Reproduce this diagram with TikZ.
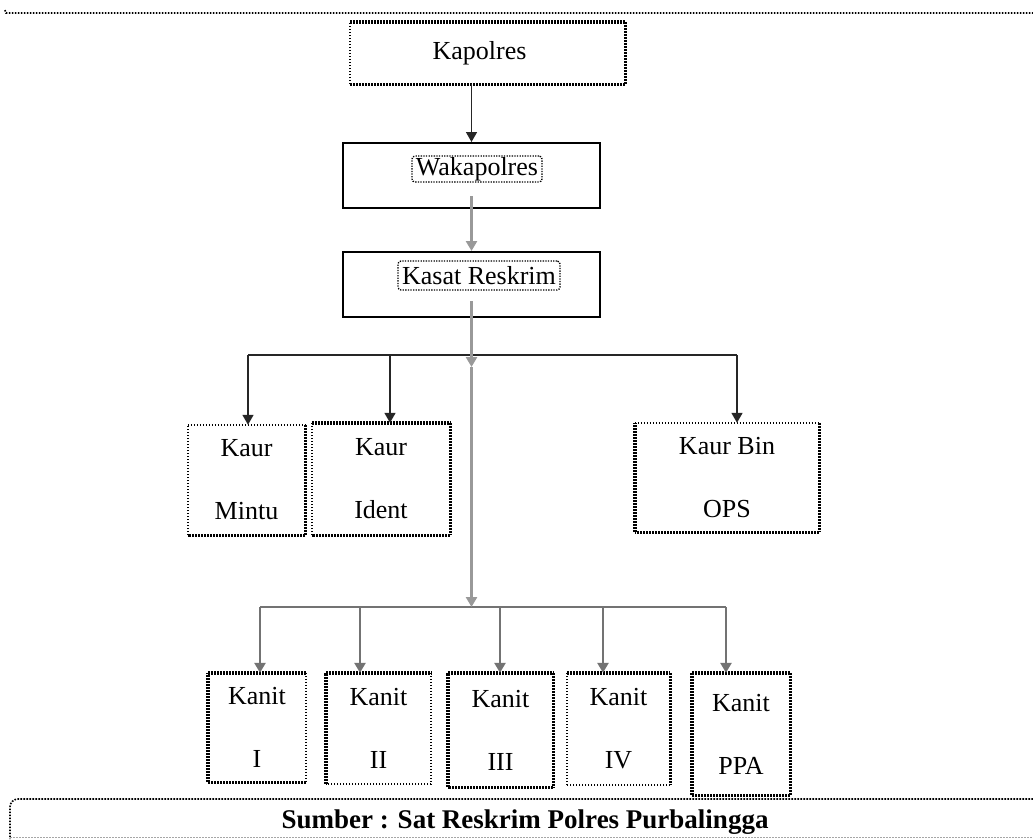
\documentclass[tikz,border=0pt]{standalone}
\usepackage{fontspec}
\setmainfont{Liberation Serif}
\usetikzlibrary{arrows.meta}
\newcommand\boxsides[5]{%
  \draw[#2] (#1.north west) -- (#1.north east);
  \draw[#3] (#1.north east) -- (#1.south east);
  \draw[#4] (#1.south east) -- (#1.south west);
  \draw[#5] (#1.south west) -- (#1.north west);}
\begin{document}
\begin{tikzpicture}[x=1pt,y=-1pt,
  hv/.style={line width=3.4pt, dash pattern=on 2.4pt off 0.6pt},
  lt/.style={line width=1.6pt, dash pattern=on 1.6pt off 1.4pt},
  sd/.style={line width=2pt, line cap=rect},
  box/.style={rectangle, inner sep=0pt, draw=none, align=center,
    font=\fontsize{26}{63}\selectfont},
  txtbox/.style={rectangle, rounded corners=3pt, draw, line width=1.3pt,
    dash pattern=on 1.3pt off 1.3pt, inner sep=0pt, font=\fontsize{26}{30}\selectfont},
  tip/.tip={Triangle[width=11pt,length=10pt]},
  blk/.style={line width=1.6pt, black!85},
  gry/.style={line width=3pt, black!40},
  gry2/.style={line width=2.5pt, black!55}]
\useasboundingbox (0,0) rectangle (1033,839);

% top dotted rule
\draw[lt] (5,10) -- (6,13) -- (1033,13);

% main chain
\node[box, minimum width=275pt, minimum height=62pt] (kap) at (487.5,53) {\hspace*{-16pt}Kapolres};
\boxsides{kap}{hv}{hv}{hv}{lt}

\node[rectangle, draw, sd, minimum width=257pt, minimum height=65pt] (waka) at (471.5,175.5) {};
\node[txtbox, minimum width=130pt, minimum height=26pt] (wakat) at (477,169) {Wakapolres};

\node[rectangle, draw, sd, minimum width=257pt, minimum height=65pt] (kasat) at (471.5,284.5) {};
\node[txtbox, minimum width=162pt, minimum height=29pt] (kasatt) at (479,275.5) {Kasat Reskrim};

% kaur boxes
\node[box, minimum width=117pt, minimum height=110pt] (mintu) at (246.5,480) {Kaur\\Mintu};
\boxsides{mintu}{lt}{hv}{hv}{lt}
\node[box, minimum width=138pt, minimum height=112pt] (ident) at (381,479) {Kaur\\Ident};
\boxsides{ident}{hv}{hv}{hv}{lt}
\node[box, minimum width=184pt, minimum height=109pt] (kbin) at (727,477.5) {Kaur Bin\\OPS};
\boxsides{kbin}{lt}{hv}{hv}{hv}

% kanit boxes
\node[box, minimum width=98pt, minimum height=109pt] (k1) at (257,727.5) {\raisebox{-3pt}{}Kanit\\I};
\boxsides{k1}{hv}{lt}{hv}{hv}
\node[box, minimum width=105pt, minimum height=111pt] (k2) at (378.5,728.5) {Kanit\\II};
\boxsides{k2}{hv}{lt}{lt}{hv}
\node[box, minimum width=105pt, minimum height=114pt] (k3) at (500.5,730) {Kanit\\III};
\boxsides{k3}{hv}{hv}{hv}{hv}
\node[box, minimum width=103pt, minimum height=112pt] (k4) at (618.5,729) {Kanit\\IV};
\boxsides{k4}{hv}{hv}{lt}{lt}
\node[box, minimum width=98pt, minimum height=122pt] (k5) at (741,734) {Kanit\\PPA};
\boxsides{k5}{hv}{hv}{hv}{hv}

% source box
\draw[lt, rounded corners=8pt] (1033,799) -- (10,799) -- (10,839);
\draw[line width=0.8pt, black!35, dash pattern=on 1.5pt off 1.5pt] (10,837.5) -- (1033,837.5);
\node[font=\fontsize{27}{30}\selectfont\bfseries, inner sep=0pt] (src) at (525,822) {Sumber : Sat Reskrim Polres Purbalingga};

% connectors
\draw[blk, -tip] (waka.north |- kap.south) -- (waka.north);
\draw[gry, -tip] ([yshift=13pt]waka.south) -- (kasat.north);

\coordinate (j1) at (471.5,367);
\coordinate (j2) at (471.5,607);
\coordinate (b1l) at (248,355);
\coordinate (b1m) at (390,355);
\coordinate (b1r) at (737,355);
\draw[blk] (b1l) -- (b1r);
\draw[blk, -tip] (b1l) -- (mintu.north -| b1l);
\draw[blk, -tip] (b1m) -- (ident.north -| b1m);
\draw[blk, -tip] (b1r) -- (kbin.north -| b1r);

\coordinate (c1) at (260,607);
\coordinate (c2) at (360,607);
\coordinate (c3) at (500,607);
\coordinate (c4) at (603,607);
\coordinate (c5) at (726,607);
\draw[gry2] (c1) -- (c5);
\draw[gry2, -tip] (c1) -- (k1.north -| c1);
\draw[gry2, -tip] (c2) -- (k2.north -| c2);
\draw[gry2, -tip] (c3) -- (k3.north -| c3);
\draw[gry2, -tip] (c4) -- (k4.north -| c4);
\draw[gry2, -tip] (c5) -- (k5.north -| c5);

\draw[gry, -tip] ([yshift=17pt]kasat.south) -- (j1);
\draw[gry, -tip] (j1) -- (j2);
\end{tikzpicture}
\end{document}
